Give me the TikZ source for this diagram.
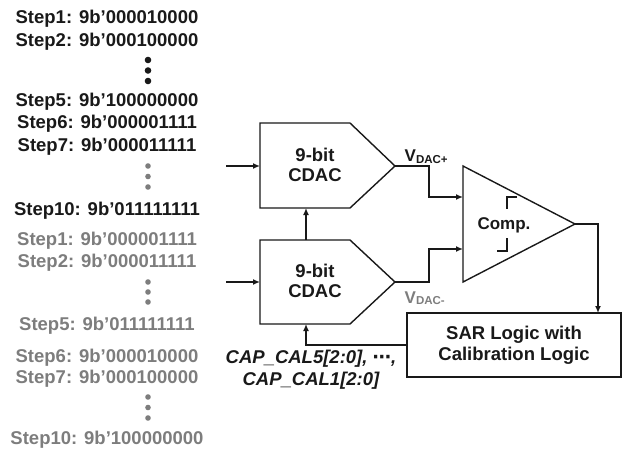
\documentclass[tikz,border=0pt]{standalone}
\usepackage{fontspec}
\setmainfont{Liberation Sans}
\newfontfamily\djvfont{DejaVu Sans}
\usetikzlibrary{arrows.meta}
\definecolor{ink}{RGB}{25,25,25}
\definecolor{fade}{RGB}{125,125,125}
\begin{document}
\begin{tikzpicture}[x=1pt,y=-1pt,
  stepline/.style={anchor=base, inner sep=0pt, font=\fontsize{18.5}{20}\selectfont\bfseries, text=ink},
  grayline/.style={stepline, text=fade},
  blk/.style={draw=ink, line width=1.4pt, line join=miter},
  arr/.style={draw=ink, line width=1.4pt, -{Latex[length=7pt,width=6pt]}},
  cornermark/.style={draw=ink, line width=2.6pt},
  lbl/.style={inner sep=0pt, font=\fontsize{18.5}{20}\selectfont\bfseries, text=ink, align=center}]
\useasboundingbox (0,0) rectangle (625,451);

% ---- step lists ----
\node[stepline] (s1) at (107,23.6) {Step1: 9b’000010000};
\node[stepline] (s2) at (107,46.6) {Step2: 9b’000100000};
\fill[ink] (148,60) circle (3.3) (148,70.5) circle (3.3) (148,81) circle (3.3);
\node[stepline] (s5) at (107,106.6) {Step5: 9b’100000000};
\node[stepline] (s6) at (107,128.6) {Step6: 9b’000001111};
\node[stepline] (s7) at (107,151.6) {Step7: 9b’000011111};
\fill[fade] (148,166) circle (2.8) (148,176.5) circle (2.8) (148,187) circle (2.8);
\node[stepline] (s10) at (107,215.6) {Step10: 9b’011111111};

\node[grayline] (g1) at (107,245.6) {Step1: 9b’000001111};
\node[grayline] (g2) at (107,267.6) {Step2: 9b’000011111};
\fill[fade] (148,282) circle (2.8) (148,292) circle (2.8) (148,302) circle (2.8);
\node[grayline] (g5) at (107,330.6) {Step5: 9b’011111111};
\node[grayline] (g6) at (107,362.6) {Step6: 9b’000010000};
\node[grayline] (g7) at (107,383.6) {Step7: 9b’000100000};
\fill[fade] (148,397) circle (2.8) (148,407.5) circle (2.8) (148,418) circle (2.8);
\node[grayline] (g10) at (107,444.6) {Step10: 9b’100000000};

% ---- CDACs ----
\draw[blk] (260,123) -- (350,123) -- (395,166) -- (350,208) -- (260,208) -- cycle;
\draw[blk] (260,240) -- (350,240) -- (395,282) -- (350,324) -- (260,324) -- cycle;
\node[lbl] (dac1) at (315,165) {9-bit\\CDAC};
\node[lbl] (dac2) at (315,281) {9-bit\\CDAC};
\coordinate (a1) at (226,166);
\coordinate (d1in) at (260,166);
\coordinate (d1out) at (395,166);
\coordinate (d1bot) at (306,208);
\coordinate (a2) at (226,282);
\coordinate (d2in) at (260,282);
\coordinate (d2out) at (395,282);
\coordinate (d2top) at (306,240);
\coordinate (d2bot) at (306,324);

% ---- comparator ----
\draw[blk] (463,166) -- (575,224) -- (463,282) -- cycle;
\coordinate (cp) at (463,197);
\coordinate (cn) at (463,249);
\coordinate (co) at (575,224);
\node[lbl, anchor=base, font=\fontsize{17}{20}\selectfont\bfseries] (comp) at (504,229) {Comp.};
\draw[cornermark] (517,197) -- (507,197) -- (507,208.5);
\draw[cornermark] (507,238) -- (507,251) -- (496.5,251);

% ---- SAR logic ----
\node[draw=ink, line width=1.4pt, minimum width=214pt, minimum height=64pt, inner sep=0pt,
  align=center, font=\fontsize{18.5}{21}\selectfont\bfseries, text=ink] (sar) at (514,345)
  {SAR Logic with\\Calibration Logic};
\coordinate (sarin) at (598,313);

% ---- connectors ----
\draw[arr] (a1) -- (d1in);
\draw[arr] (a2) -- (d2in);
\draw[arr] (d2top) -- (d1bot);
\draw[arr] (d1out) -- ++(34,0) |- (cp);
\draw[arr] (d2out) -- ++(34,0) |- (cn);
\draw[arr] (co) -| (sarin);
\draw[arr] (sar.west) -| (d2bot);

% ---- labels ----
\node[inner sep=0pt, anchor=base west, text=ink, font=\bfseries] (vp) at (404.5,161.5)
  {\fontsize{17}{20}\selectfont V\raisebox{-1.5pt}{\fontsize{11.5}{12}\selectfont DAC+}};
\node[inner sep=0pt, anchor=base west, text=fade, font=\bfseries] (vn) at (404.5,303)
  {\fontsize{17}{20}\selectfont V\raisebox{-1.5pt}{\fontsize{11.5}{12}\selectfont DAC-}};
\node[inner sep=0pt, align=center, text=ink, font=\fontsize{18.5}{22}\selectfont\bfseries\itshape] (cap) at (311,370)
  {CAP\_CAL5[2:0], {\djvfont\bfseries\itshape ⋯},\\CAP\_CAL1[2:0]};
\end{tikzpicture}
\end{document}
